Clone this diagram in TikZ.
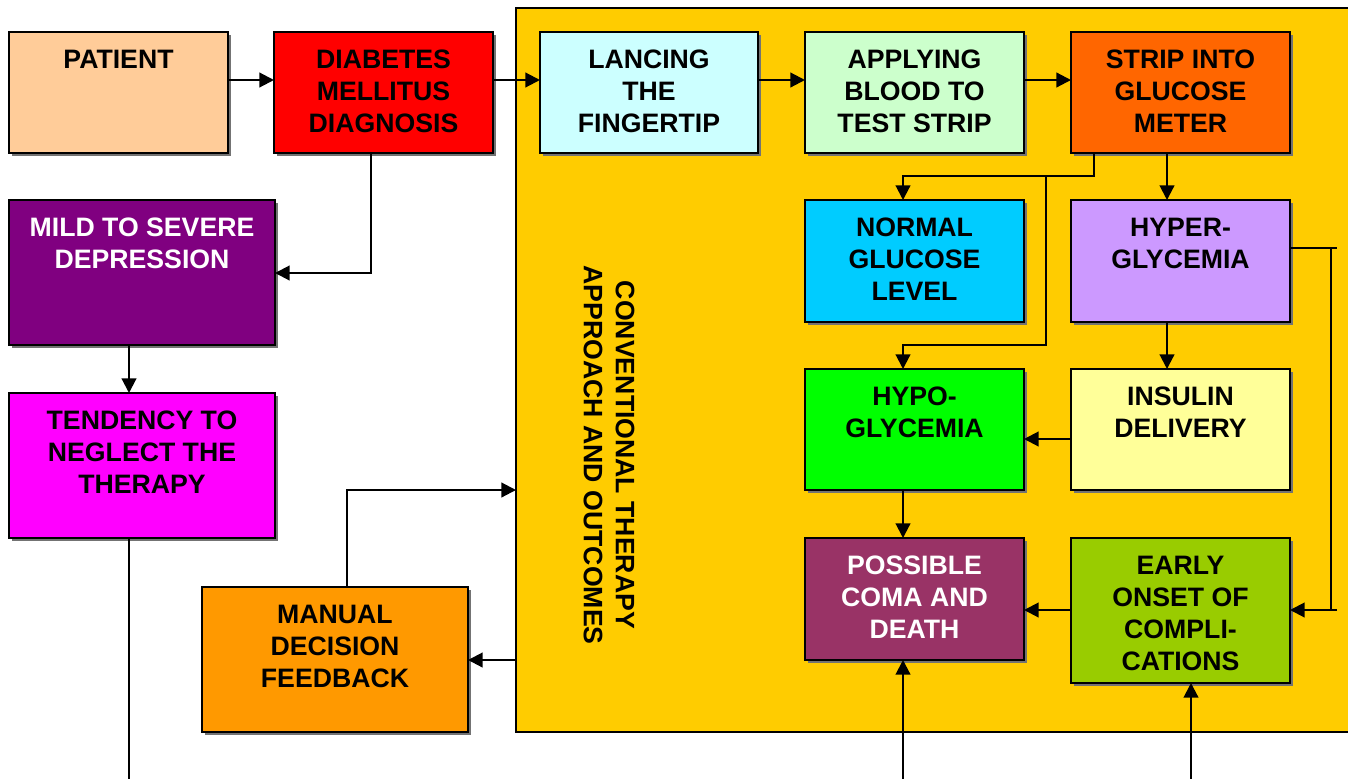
\documentclass[tikz,border=0pt]{standalone}
\usepackage{fontspec}
\setmainfont{Liberation Sans}
\usetikzlibrary{arrows.meta}
\definecolor{cPat}{HTML}{FFCC99}
\definecolor{cDia}{HTML}{FF0000}
\definecolor{cLan}{HTML}{CCFFFF}
\definecolor{cApp}{HTML}{CCFFCC}
\definecolor{cStr}{HTML}{FF6600}
\definecolor{cMil}{HTML}{800080}
\definecolor{cTen}{HTML}{FF00FF}
\definecolor{cMan}{HTML}{FF9900}
\definecolor{cYel}{HTML}{FFCC00}
\definecolor{cNor}{HTML}{00CCFF}
\definecolor{cHyr}{HTML}{CC99FF}
\definecolor{cHyo}{HTML}{00FF00}
\definecolor{cIns}{HTML}{FFFF99}
\definecolor{cPos}{HTML}{993366}
\definecolor{cEar}{HTML}{99CC00}
\tikzset{
  boxshape/.style={draw=black, line width=1.8pt, inner sep=0pt, outer sep=0pt, anchor=north west},
  lbl/.style={font=\fontsize{20}{24}\selectfont\bfseries, align=center, anchor=north, inner sep=0pt},
  arr/.style={line width=1.6pt, -{Triangle[length=11pt,width=11pt]}},
  ln/.style={line width=1.6pt},
}
\newcommand\flowbox[8]{%
  \fill[black!55] (#2+2.5,#3+2.5) rectangle (#4+2.5,#5+2.5);
  \node[boxshape, fill=#6, minimum width={(#4-#2)*0.75pt}, minimum height={(#5-#3)*0.75pt}] (#1) at (#2,#3) {};
  \node[lbl, text=#7] (#1-t) at ({(#2+#4)/2},#3+18) {#8};
}
\begin{document}
\begin{tikzpicture}[x=0.75pt,y=-0.75pt]
\useasboundingbox (0,0) rectangle (1348,778);
% large yellow panel
\node[boxshape, fill=cYel, minimum width={(1370-516)*0.75pt}, minimum height={(732-8)*0.75pt}] (conv) at (516,8) {};
\node[lbl, anchor=center, rotate=-90] (convt) at (609,455) {CONVENTIONAL THERAPY\\APPROACH AND OUTCOMES};
% boxes
\flowbox{patient}{9}{32}{228}{153}{cPat}{black}{PATIENT}
\flowbox{diab}{274}{32}{493}{153}{cDia}{black}{DIABETES\\MELLITUS\\DIAGNOSIS}
\flowbox{lanc}{540}{32}{758}{153}{cLan}{black}{LANCING\\THE\\FINGERTIP}
\flowbox{appl}{805}{32}{1024}{153}{cApp}{black}{APPLYING\\BLOOD TO\\TEST STRIP}
\flowbox{strip}{1071}{32}{1290}{153}{cStr}{black}{STRIP INTO\\GLUCOSE\\METER}
\flowbox{mild}{9}{200}{275}{345}{cMil}{white}{MILD TO SEVERE\\DEPRESSION}
\flowbox{tend}{9}{393}{275}{538}{cTen}{black}{TENDENCY TO\\NEGLECT THE\\THERAPY}
\flowbox{manual}{202}{587}{468}{732}{cMan}{black}{MANUAL\\DECISION\\FEEDBACK}
\flowbox{normal}{805}{200}{1024}{322}{cNor}{black}{NORMAL\\GLUCOSE\\LEVEL}
\flowbox{hyper}{1071}{200}{1290}{322}{cHyr}{black}{HYPER-\\GLYCEMIA}
\flowbox{hypo}{805}{369}{1024}{490}{cHyo}{black}{HYPO-\\GLYCEMIA}
\flowbox{insulin}{1071}{369}{1290}{490}{cIns}{black}{INSULIN\\DELIVERY}
\flowbox{poss}{805}{538}{1024}{660}{cPos}{white}{POSSIBLE\\COMA AND\\DEATH}
\flowbox{early}{1071}{538}{1290}{683}{cEar}{black}{EARLY\\ONSET OF\\COMPLI-\\CATIONS}
% free ends
\coordinate (tendout) at (129,790);
\coordinate (possin) at (903,790);
\coordinate (earlyin) at (1191,790);
\coordinate (split) at (1046,176);
% connectors
\draw[arr] (patient.east |- 0,80) -- (diab.west |- 0,80);
\draw[arr] (diab.east |- 0,80) -- (lanc.west |- 0,80);
\draw[arr] (lanc.east |- 0,80) -- (appl.west |- 0,80);
\draw[arr] (appl.east |- 0,80) -- (strip.west |- 0,80);
\draw[arr] (371,0 |- diab.south) |- (mild.east |- 0,273);
\draw[arr] (129,0 |- mild.south) -- (129,0 |- tend.north);
\draw[ln] (129,0 |- tend.south) -- (tendout);
\draw[arr] (1094,0 |- strip.south) -- (1094,176) -- (903,176) -- (903,0 |- normal.north);
\draw[arr] (split) -- (1046,345) -- (903,345) -- (903,0 |- hypo.north);
\draw[arr] (1167,0 |- strip.south) -- (1167,0 |- hyper.north);
\draw[arr] (1167,0 |- hyper.south) -- (1167,0 |- insulin.north);
\draw[arr] (insulin.west |- 0,439) -- (hypo.east |- 0,439);
\draw[ln] (hyper.east |- 0,248) -- (1337,248);
\draw[ln] (1331,248) -- (1331,610);
\draw[arr] (1337,610) -- (early.east |- 0,610);
\draw[arr] (early.west |- 0,610) -- (poss.east |- 0,610);
\draw[arr] (903,0 |- hypo.south) -- (903,0 |- poss.north);
\draw[arr] (possin) -- (903,0 |- poss.south);
\draw[arr] (earlyin) -- (1191,0 |- early.south);
\draw[arr] (conv.west |- 0,660) -- (manual.east |- 0,660);
\draw[arr] (347,0 |- manual.north) |- (conv.west |- 0,490);
\end{tikzpicture}
\end{document}
